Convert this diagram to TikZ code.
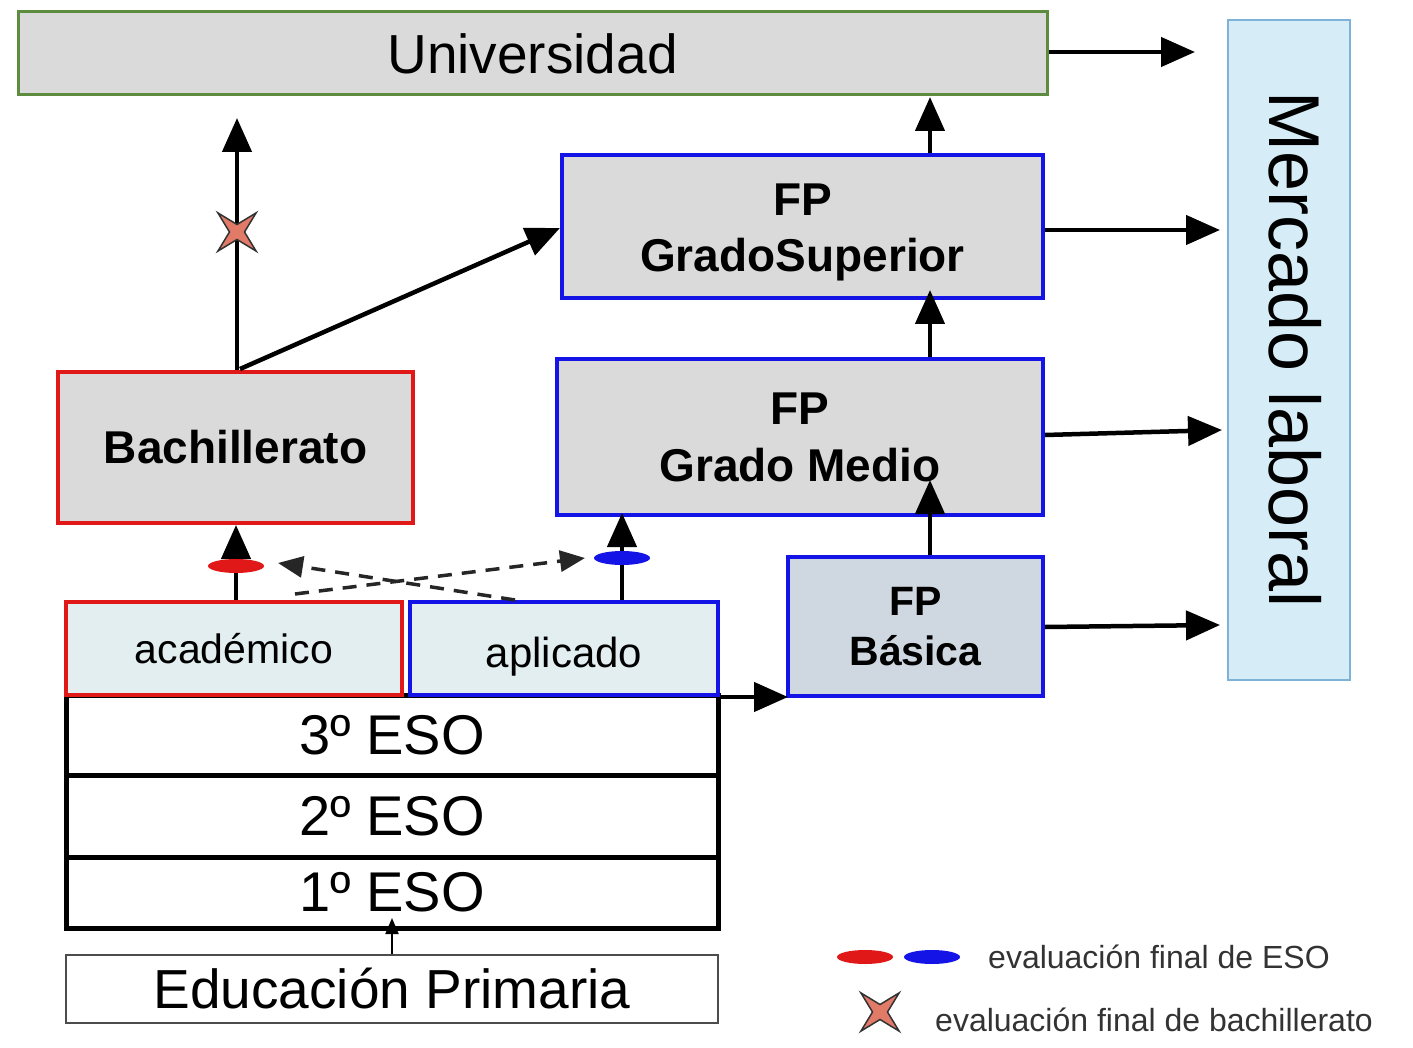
\documentclass[tikz,border=0pt]{standalone}
\usepackage{fontspec}
\setmainfont{Liberation Sans}
\usetikzlibrary{arrows.meta,shapes.geometric}
\definecolor{boxgray}{HTML}{DADADA}
\definecolor{unigreen}{HTML}{5E8C3E}
\definecolor{fpblue}{HTML}{1414E6}
\definecolor{bachred}{HTML}{E01818}
\definecolor{mercfill}{HTML}{D6EDF8}
\definecolor{mercline}{HTML}{7FB2D8}
\definecolor{optfill}{HTML}{E2EEF0}
\definecolor{basfill}{HTML}{CFD8E0}
\definecolor{starfill}{HTML}{E27A68}
\definecolor{legtext}{HTML}{333333}
\tikzset{
  fs/.style={font=\fontsize{#1}{#1}\selectfont},
  fsb/.style 2 args={font=\fontsize{#1}{#2}\selectfont\bfseries},
  boxbase/.style={inner sep=0pt, align=center},
  fpbox/.style={boxbase, draw=fpblue, line width=4pt, fill=boxgray},
  esobox/.style={boxbase, draw=black, line width=5pt, fill=white, minimum width=652pt},
  bigarrow/.style={line width=4.5pt, -{Triangle[length=34pt,width=29pt]}},
  dasharrow/.style={line width=3.5pt, draw=black!85, dash pattern=on 14pt off 10pt, -{Triangle[length=25pt,width=21pt]}},
  evaloval/.style={ellipse, inner sep=0pt, minimum width=56pt, minimum height=14pt},
  evalstar/.style={star, star points=4, star point ratio=3.6, minimum size=54pt, inner sep=0pt, rotate=45, fill=starfill, draw=black!80, line width=1.5pt}
}
\begin{document}
\begin{tikzpicture}[x=1pt,y=-1pt]
\useasboundingbox (0,0) rectangle (1413,1048);
% boxes
\node[boxbase, draw=unigreen, line width=3pt, fill=boxgray, minimum width=1029pt, minimum height=83pt, fs=55] (uni) at (532.5,53.5) {Universidad};
\node[boxbase, draw=mercline, line width=2pt, fill=mercfill, minimum width=122pt, minimum height=660pt] (merc) at (1289,350) {};
\node[inner sep=0pt, rotate=-90, fs=72] (merctext) at ([xshift=6pt]merc.center) {Mercado laboral};
\node[fpbox, minimum width=481pt, minimum height=143pt] (gs) at (802.5,226.5) {};
\node[boxbase, fsb={46}{56}] (gstext) at ([yshift=-6pt]gs.center) {FP\\GradoSuperior};
\node[fpbox, minimum width=486pt, minimum height=155pt, fsb={46}{57}] (gm) at (800,437) {FP\\Grado Medio};
\node[fpbox, fill=basfill, minimum width=255pt, minimum height=139pt, fsb={41}{50}] (fb) at (915.5,626.5) {FP\\Básica};
\node[boxbase, draw=bachred, line width=4pt, fill=boxgray, minimum width=355pt, minimum height=151pt, fsb={46}{50}] (bach) at (235.5,447.5) {Bachillerato};
\node[esobox, minimum height=80pt, fs=56] (eso3) at (392,735) {3º ESO};
\node[esobox, minimum height=82pt, fs=56] (eso2) at (392,816) {2º ESO};
\node[esobox, minimum height=71pt, fs=56] (eso1) at (392,892.5) {1º ESO};
\node[boxbase, draw=bachred, line width=4pt, fill=optfill, minimum width=336pt, minimum height=93pt, text height=29pt, text depth=0pt, fs=41] (acad) at (234,648.5) {académico};
\node[boxbase, draw=fpblue, line width=4pt, fill=optfill, minimum width=308pt, minimum height=93pt, text height=37pt, text depth=0pt, fs=42] (apli) at (564,648.5) {aplicado};
\node[boxbase, draw=black!70, line width=2pt, fill=white, minimum width=652pt, minimum height=68pt, fs=55] (prim) at (392,989) {Educación Primaria};
% free ends
\coordinate (m1) at (1195,52);
\coordinate (m2) at (1220,230);
\coordinate (m3) at (1222,430);
\coordinate (m4) at (1220,625);
\coordinate (bachtop) at (237,118);
\coordinate (gsin) at (930,290);
\coordinate (gmin) at (930,480);
\coordinate (eso1in) at (392,918);
% arrows to Mercado
\draw[bigarrow] (uni.east |- 0,52) -- (m1);
\draw[bigarrow] (gs.east |- m2) -- (m2);
\draw[bigarrow] (gm.east |- 0,435) -- (m3);
\draw[bigarrow] (fb.east |- 0,627) -- (m4);
% vertical flows
\draw[bigarrow] (gs.north -| 930,0) -- (930,97) coordinate (unibot);
\draw[bigarrow] (gm.north -| gsin) -- (gsin);
\draw[bigarrow] (fb.north -| gmin) -- (gmin);
\draw[bigarrow] (bach.north -| bachtop) -- (bachtop);
\draw[bigarrow] (240,369) -- (gs.west |- 0,228);
\draw[bigarrow] (acad.north -| 236,0) -- (236,525);
\draw[bigarrow] (apli.north -| 622,0) -- (622,513);
\draw[bigarrow] (apli.south east) -- (788,697);
\draw[line width=2pt, -{Triangle[length=16pt,width=13pt]}] (prim.north) -- (eso1in);
% dashed crossing arrows
\draw[dasharrow] (295,594) -- (585,558);
\draw[dasharrow] (515,600) -- (278,563);
% evaluation marks
\node[evaloval, fill=bachred] (ovr) at (236,566) {};
\node[evaloval, fill=fpblue] (ovb) at (622,558) {};
\node[evalstar] (st) at (237,232) {};
% legend
\node[evaloval, fill=bachred] (lovr) at (865,957) {};
\node[evaloval, fill=fpblue] (lovb) at (932,957) {};
\node[anchor=west, inner sep=0pt, fs=32, text=legtext] (l1) at (988,957) {evaluación final de ESO};
\node[evalstar] (lst) at (880,1012) {};
\node[anchor=west, inner sep=0pt, fs=32, text=legtext] (l2) at (935,1020) {evaluación final de bachillerato};
\end{tikzpicture}
\end{document}
